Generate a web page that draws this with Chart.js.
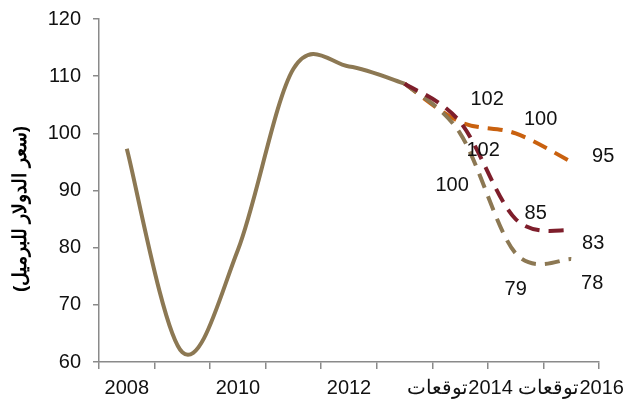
<!DOCTYPE html>
<html lang="ar">
<head>
<meta charset="utf-8">
<title>سعر النفط</title>
<script src="https://cdn.jsdelivr.net/npm/chart.js@4/dist/chart.umd.min.js"></script>
<style>
    html, body { margin: 0; padding: 0; background: #ffffff; }
    #wrap { width: 631px; height: 403px; position: relative; }
</style>
</head>
<body>
<div id="wrap"><canvas id="oilChart" width="631" height="403"></canvas></div>
<script>
// === DATA ===
const years = ['2008', '2009', '2010', '2011', '2012', '2013',
    'توقعات\u200E2014', 'توقعات\u200E2015', 'توقعات\u200E2016'];
const actualPrice = [97.3, 61.7, 79.6, 111.3, 111.7, 108.7, null, null, null];
const forecastHigh = [null, null, null, null, null, 108.7, 102, 100, 95];
const forecastMid = [null, null, null, null, null, 108.7, 102, 85, 83];
const forecastLow = [null, null, null, null, null, 108.7, 100, 79, 78];
const yTicks = [60, 70, 80, 90, 100, 110, 120];
const yTitle = '(سعر الدولار للبرميل)';

// label offsets (px) for the forecast value labels, per point
const labelShift = {
    high: [null, null, null, null, null, null, [27, -22], [25, -14], [32, -5]],
    mid:  [null, null, null, null, null, null, [23, 29], [20, -6], [22, 13]],
    low:  [null, null, null, null, null, null, [-8, 52], [0, 36], [21, 24]]
};

const FONT = '"Liberation Sans", Arial, sans-serif';
const TAN = '#8c7853';
const DARK_RED = '#7e1e2b';
const ORANGE = '#c9610f';
const AXIS = '#8a8a8a';

// === PLUGINS ===

// uniform Catmull-Rom smoothing (control points at 1/6 of the neighbour chord),
// replaces the distance-weighted spline that Chart.js computes by default
const evenSpline = {
    id: 'evenSpline',
    beforeDatasetsDraw(chart) {
        chart.getSortedVisibleDatasetMetas().forEach(meta => {
            const pts = meta.data.filter(p => !p.skip);
            pts.forEach((p, i) => {
                const prev = pts[i - 1] || p;
                const next = pts[i + 1] || p;
                const dx = (next.x - prev.x) / 6;
                const dy = (next.y - prev.y) / 6;
                p.cp1x = p.x - dx;
                p.cp1y = p.y - dy;
                p.cp2x = p.x + dx;
                p.cp2y = p.y + dy;
            });
            if (meta.dataset) meta.dataset._pointsUpdated = true;
        });
    }
};

const valueLabels = {
    id: 'valueLabels',
    afterDatasetsDraw(chart) {
        const ctx = chart.ctx;
        ctx.save();
        ctx.font = '20px ' + FONT;
        ctx.fillStyle = '#111';
        ctx.textAlign = 'center';
        ctx.textBaseline = 'middle';
        chart.data.datasets.forEach((ds, di) => {
            if (!ds.shiftKey) return;
            const meta = chart.getDatasetMeta(di);
            ds.data.forEach((v, i) => {
                const shift = labelShift[ds.shiftKey][i];
                if (v == null || !shift) return;
                const pt = meta.data[i];
                ctx.fillText(String(Math.round(v)), pt.x + shift[0], pt.y + shift[1]);
            });
        });
        ctx.restore();
    }
};

const sideTitle = {
    id: 'sideTitle',
    afterDraw(chart) {
        const ctx = chart.ctx;
        ctx.save();
        ctx.translate(21, 209);
        ctx.rotate(-Math.PI / 2);
        ctx.font = 'bold 19px ' + FONT;
        ctx.fillStyle = '#000';
        ctx.textAlign = 'center';
        ctx.textBaseline = 'middle';
        ctx.fillText(yTitle, 0, 0);
        ctx.restore();
    }
};

// === CHART ===
const dashed = [15, 9];

new Chart(document.getElementById('oilChart'), {
    type: 'line',
    data: {
        labels: years,
        datasets: [
            {
                data: forecastMid, shiftKey: 'mid', order: 1,
                borderColor: DARK_RED, borderWidth: 4, borderDash: dashed
            },
            {
                data: forecastLow, shiftKey: 'low', order: 2,
                borderColor: TAN, borderWidth: 4, borderDash: dashed
            },
            {
                data: forecastHigh, shiftKey: 'high', order: 3,
                borderColor: ORANGE, borderWidth: 4, borderDash: dashed
            },
            {
                data: actualPrice, order: 4,
                borderColor: TAN, borderWidth: 4
            }
        ]
    },
    options: {
        responsive: false,
        animation: false,
        events: [],
        layout: { padding: { top: 19, right: 32, bottom: 0, left: 0 } },
        elements: {
            point: { radius: 0, hoverRadius: 0 },
            line: { tension: 0.35, fill: false, borderCapStyle: 'butt' }
        },
        plugins: {
            legend: { display: false },
            tooltip: { enabled: false }
        },
        scales: {
            x: {
                type: 'category',
                offset: true,
                grid: {
                    display: true, offset: true, drawOnChartArea: false,
                    drawTicks: true, tickLength: 7, color: AXIS, lineWidth: 1.5
                },
                border: { display: true, color: AXIS, width: 1.5 },
                ticks: {
                    autoSkip: false, maxRotation: 0, padding: 7,
                    color: '#111', font: { family: FONT, size: 20 },
                    callback: function (val, idx) {
                        return idx % 2 === 0 ? this.getLabelForValue(val) : '';
                    }
                },
                afterFit(scale) {
                    scale.height = 41;
                    scale.paddingLeft = 0;
                    scale.paddingRight = 0;
                }
            },
            y: {
                min: 60, max: 120,
                afterBuildTicks(scale) {
                    scale.ticks = yTicks.map(v => ({ value: v }));
                },
                grid: {
                    display: true, drawOnChartArea: false,
                    drawTicks: true, tickLength: 6, color: AXIS, lineWidth: 1.5
                },
                border: { display: true, color: AXIS, width: 1.5 },
                ticks: {
                    padding: 12, color: '#111',
                    font: { family: FONT, size: 20 }
                },
                afterFit(scale) {
                    scale.width = 99;
                    scale.paddingTop = 0;
                    scale.paddingBottom = 0;
                }
            }
        }
    },
    plugins: [evenSpline, valueLabels, sideTitle]
});
</script>
</body>
</html>
